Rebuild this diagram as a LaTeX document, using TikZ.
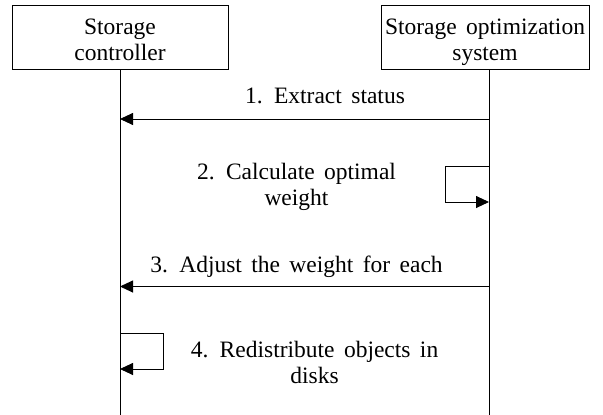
\documentclass[tikz,border=0pt]{standalone}
\usepackage{fontspec}
\setmainfont{Liberation Serif}[WordSpace=1.6]
\usetikzlibrary{arrows.meta}
\begin{document}
\begin{tikzpicture}[x=1pt,y=-1pt,
  box/.style={draw, line width=0.9pt, minimum width=#1, minimum height=64pt, inner sep=0pt, align=center},
  lbl/.style={align=center, anchor=base, inner sep=0pt},
  life/.style={line width=0.9pt},
  msg/.style={line width=0.9pt, -{Triangle[length=13pt,width=12pt]}},
  every node/.style={font=\fontsize{23.5}{26}\selectfont}]
\useasboundingbox (0,0) rectangle (603,415);
% participants
\node[box=216pt] (sc) at (120,37) {};
\node[box=208pt] (sos) at (485,37) {};
\node[lbl] (sct) at (120,60) {Storage\\controller};
\node[lbl] (sost) at (485,60) {Storage optimization\\system};
% lifeline ends
\coordinate (lb) at (120,415);
\coordinate (rb) at (489,415);
\coordinate (lt) at (120,69);
\coordinate (rt) at (489,69);
\draw[life] (lt) -- (lb);
\draw[life] (rt) -- (rb);
% message points
\coordinate (m1r) at (489,119);
\coordinate (m1l) at (120,119);
\coordinate (m2a) at (489,166);
\coordinate (m2b) at (489,202);
\coordinate (m3r) at (489,286.5);
\coordinate (m3l) at (120,286.5);
\coordinate (m4a) at (120,333);
\coordinate (m4b) at (120,369);
% messages
\draw[msg] (m1r) -- (m1l);
\node[lbl] (t1) at (325,103) {1. Extract status};
\draw[msg] (m2a) -- ++(-44,0) |- (m2b);
\node[lbl] (t2) at (296.5,205) {2. Calculate optimal\\weight};
\draw[msg] (m3r) -- (m3l);
\node[lbl] (t3) at (296.5,272) {3. Adjust the weight for each};
\draw[msg] (m4a) -- ++(43,0) |- (m4b);
\node[lbl] (t4) at (314.5,383) {4. Redistribute objects in\\disks};
\end{tikzpicture}
\end{document}
